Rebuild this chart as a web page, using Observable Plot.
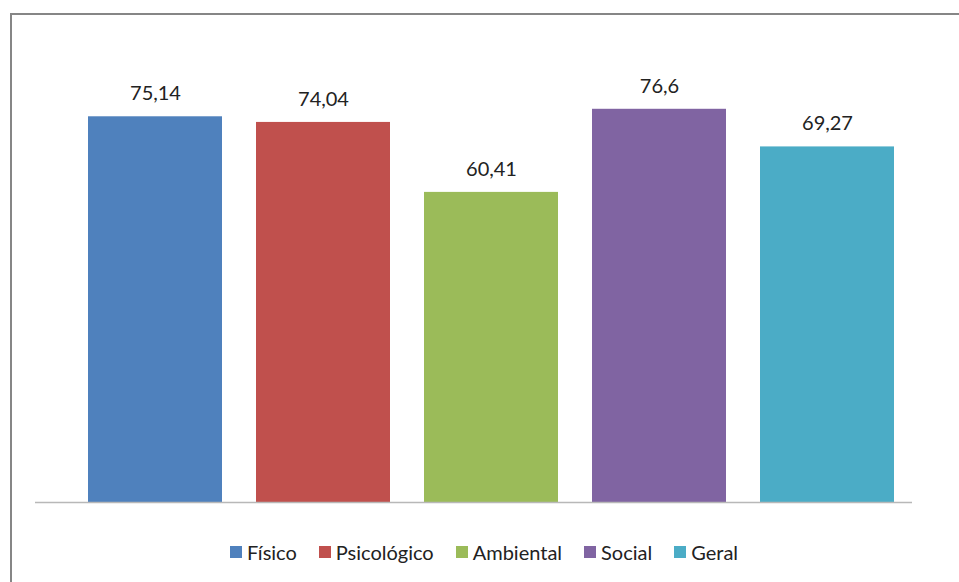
<!DOCTYPE html>
<html>
<head>
<meta charset="utf-8">
<script src="https://cdn.jsdelivr.net/npm/d3@7"></script>
<script src="https://cdn.jsdelivr.net/npm/@observablehq/plot@0.6"></script>
<style>
  body { margin: 0; background: #fff; }
  #wrap { position: relative; width: 959px; height: 582px; overflow: hidden; background: #fff; }
  #frame { position: absolute; left: 10px; top: 13px; width: 970px; height: 620px; border: 2px solid #868686; box-sizing: border-box; }
  #chart { position: absolute; left: 0; top: 0; }
  #legend { position: absolute; left: 0; top: 535px; width: 968px; display: flex; justify-content: center; }
  #legend > div { font-family: Lato, "Noto Sans", sans-serif !important; font-size: 20px !important; color: #222 !important; margin: 0 !important; }
  #legend > div > span { margin-right: 22px !important; }
  #legend > div > span:last-child { margin-right: 0 !important; }
  #legend svg { margin-right: 5px !important; }
</style>
</head>
<body>
<div id="wrap">
  <div id="frame"></div>
  <div id="chart"></div>
  <div id="legend"></div>
</div>
<script>
// Mean domain scores
const domains = ["Físico", "Psicológico", "Ambiental", "Social", "Geral"];
const scores = [75.14, 74.04, 60.41, 76.6, 69.27];
const palette = ["#4F81BD", "#C0504D", "#9BBB59", "#8064A2", "#4BACC6"];

const rows = domains.map((d, i) => ({domain: d, score: scores[i]}));
const fmt = v => String(v).replace(".", ",");

const colorScale = {domain: domains, range: palette};

const chart = Plot.plot({
  width: 959,
  height: 520,
  marginLeft: 35,
  marginRight: 47,
  marginTop: 40,
  marginBottom: 18,
  style: {fontFamily: "Lato, 'Noto Sans', sans-serif", background: "transparent"},
  x: {domain: domains, range: [69, 912], paddingInner: 0.205, paddingOuter: 0.1025, axis: null},
  y: {domain: [0, 90], axis: null},
  color: colorScale,
  marks: [
    Plot.barY(rows, {x: "domain", y: "score", fill: "domain"}),
    Plot.ruleY([0], {stroke: "#b8b8b8", strokeWidth: 1.5}),
    Plot.text(rows, {
      x: "domain", y: "score", text: d => fmt(d.score),
      dy: -23, fontSize: 20, fill: "#222"
    })
  ]
});
document.getElementById("chart").appendChild(chart);

const legend = Plot.legend({color: {...colorScale, type: "categorical"}, swatchSize: 12});
document.getElementById("legend").appendChild(legend);
</script>
</body>
</html>
